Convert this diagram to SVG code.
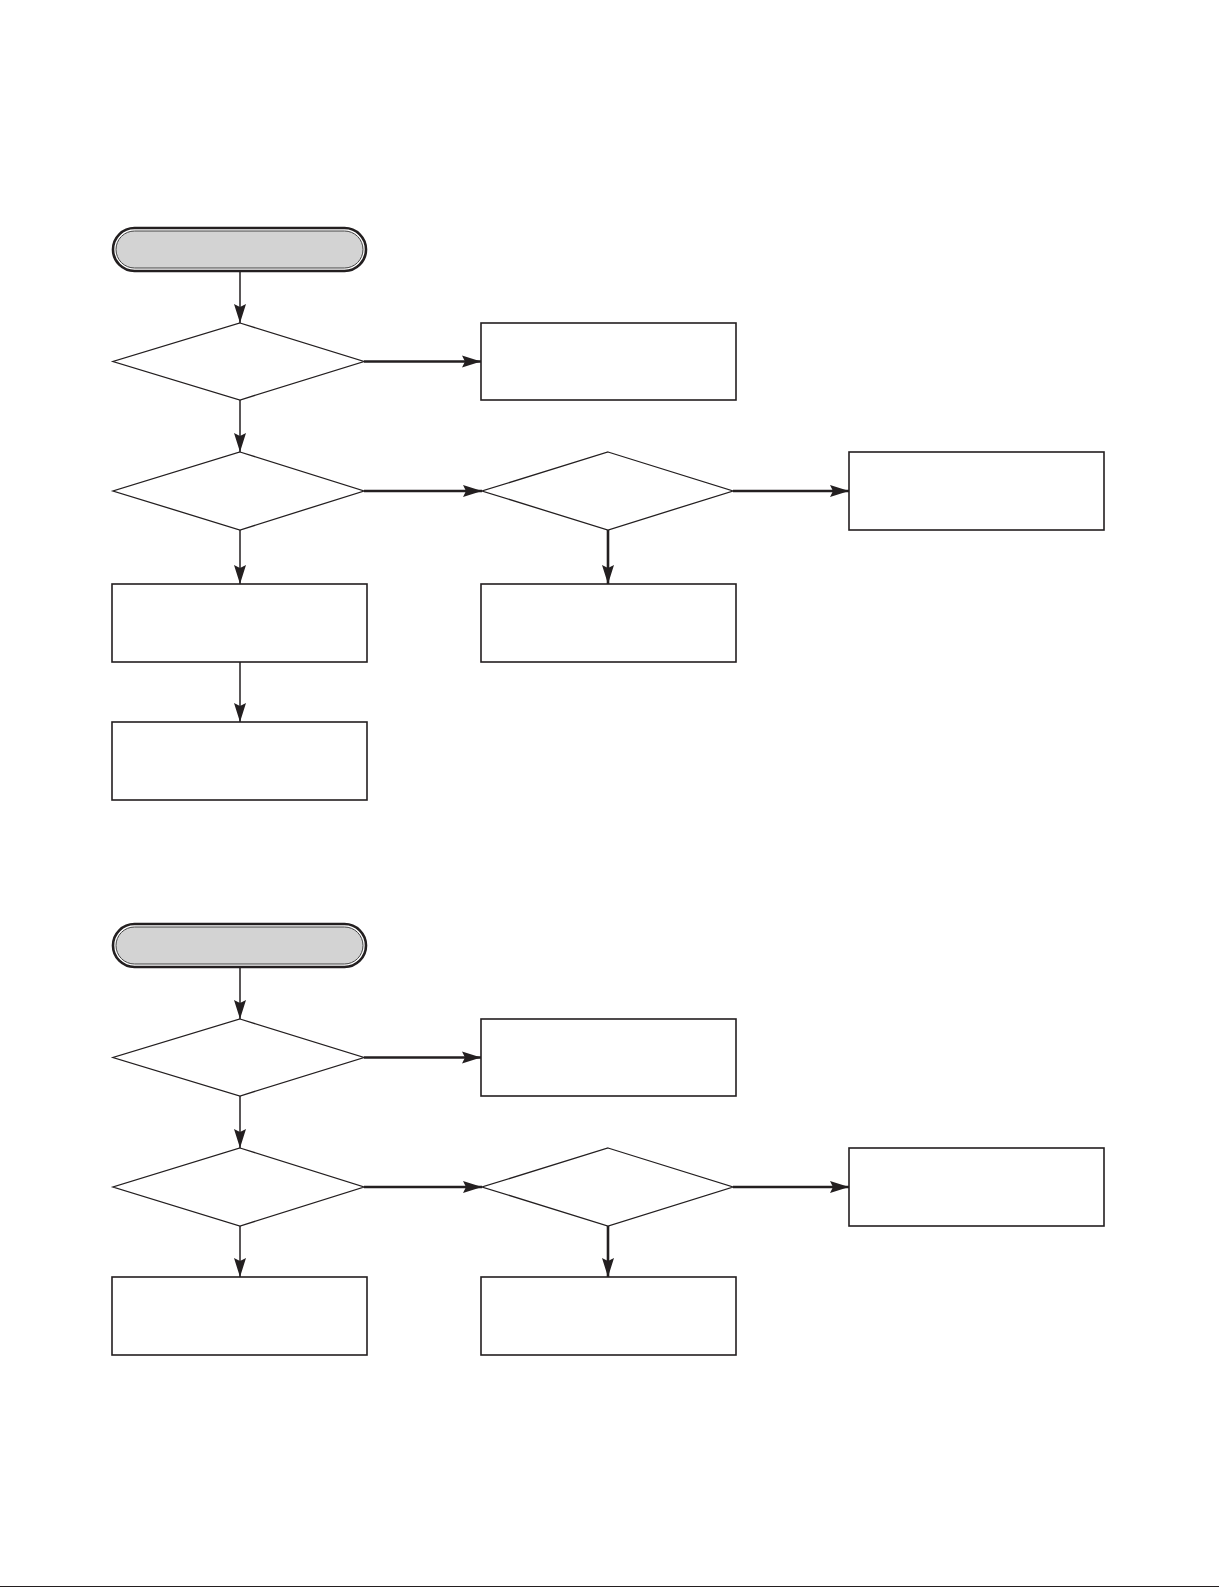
<svg xmlns="http://www.w3.org/2000/svg" width="1219" height="1587" viewBox="0 0 1219 1587">
<style>
.box{fill:#fff;stroke:#231f20;stroke-width:1.6}
.dia{fill:#fff;stroke:#231f20;stroke-width:1.3}
.term-o{fill:#fff;stroke:#231f20;stroke-width:2.6}
.term-i{fill:#d3d3d3;stroke:#444;stroke-width:1}
.thin{stroke:#231f20;stroke-width:1.5;fill:none}
.thick{stroke:#231f20;stroke-width:2.6;fill:none}
</style>
<defs>
<marker id="ah" viewBox="0 0 19 13" refX="19" refY="6.5" markerWidth="19" markerHeight="13" markerUnits="userSpaceOnUse" orient="auto">
<path d="M0,0.5 L19,6.5 L0,12.5 L3,6.5 Z" fill="#231f20"/>
</marker>
</defs>
<rect width="1219" height="1587" fill="#fff"/>

<!-- Top flow -->
<g id="t1-start"><rect class="term-o" x="113" y="228" width="253" height="43" rx="21.5"/><rect class="term-i" x="116" y="231" width="247" height="37" rx="18.5"/></g>
<g id="t1-d1"><polygon class="dia" points="240,323 364,361.5 240,400 113,361.5"/></g>
<g id="t1-b1"><rect class="box" x="481" y="323" width="255" height="77"/></g>
<g id="t1-d2"><polygon class="dia" points="240,452 364,491 240,530 113,491"/></g>
<g id="t1-d3"><polygon class="dia" points="608,452 733,491 608,530 482,491"/></g>
<g id="t1-b2"><rect class="box" x="849" y="452" width="255" height="78"/></g>
<g id="t1-b3"><rect class="box" x="112" y="584" width="255" height="78"/></g>
<g id="t1-b4"><rect class="box" x="481" y="584" width="255" height="78"/></g>
<g id="t1-b5"><rect class="box" x="112" y="722" width="255" height="78"/></g>

<!-- Bottom flow -->
<g id="t2-start"><rect class="term-o" x="113" y="924" width="253" height="43" rx="21.5"/><rect class="term-i" x="116" y="927" width="247" height="37" rx="18.5"/></g>
<g id="t2-d1"><polygon class="dia" points="240,1019 364,1057.5 240,1096 113,1057.5"/></g>
<g id="t2-b1"><rect class="box" x="481" y="1019" width="255" height="77"/></g>
<g id="t2-d2"><polygon class="dia" points="240,1148 364,1187 240,1226 113,1187"/></g>
<g id="t2-d3"><polygon class="dia" points="608,1148 733,1187 608,1226 482,1187"/></g>
<g id="t2-b2"><rect class="box" x="849" y="1148" width="255" height="78"/></g>
<g id="t2-b3"><rect class="box" x="112" y="1277" width="255" height="78"/></g>
<g id="t2-b4"><rect class="box" x="481" y="1277" width="255" height="78"/></g>

<g id="connectors">
<line class="thin" x1="240" y1="272" x2="240" y2="323" marker-end="url(#ah)"/>
<line class="thick" x1="364" y1="361.5" x2="481" y2="361.5" marker-end="url(#ah)"/>
<line class="thin" x1="240" y1="400" x2="240" y2="452" marker-end="url(#ah)"/>
<line class="thick" x1="364" y1="491" x2="482" y2="491" marker-end="url(#ah)"/>
<line class="thick" x1="733" y1="491" x2="849" y2="491" marker-end="url(#ah)"/>
<line class="thick" x1="608" y1="530" x2="608" y2="584" marker-end="url(#ah)"/>
<line class="thin" x1="240" y1="530" x2="240" y2="584" marker-end="url(#ah)"/>
<line class="thin" x1="240" y1="662" x2="240" y2="722" marker-end="url(#ah)"/>

<line class="thin" x1="240" y1="968" x2="240" y2="1019" marker-end="url(#ah)"/>
<line class="thick" x1="364" y1="1057.5" x2="481" y2="1057.5" marker-end="url(#ah)"/>
<line class="thin" x1="240" y1="1096" x2="240" y2="1148" marker-end="url(#ah)"/>
<line class="thick" x1="364" y1="1187" x2="482" y2="1187" marker-end="url(#ah)"/>
<line class="thick" x1="733" y1="1187" x2="849" y2="1187" marker-end="url(#ah)"/>
<line class="thick" x1="608" y1="1226" x2="608" y2="1277" marker-end="url(#ah)"/>
<line class="thin" x1="240" y1="1226" x2="240" y2="1277" marker-end="url(#ah)"/>
</g>
<line x1="0" y1="1586.5" x2="1219" y2="1586.5" stroke="#231f20" stroke-width="1"/>
</svg>
